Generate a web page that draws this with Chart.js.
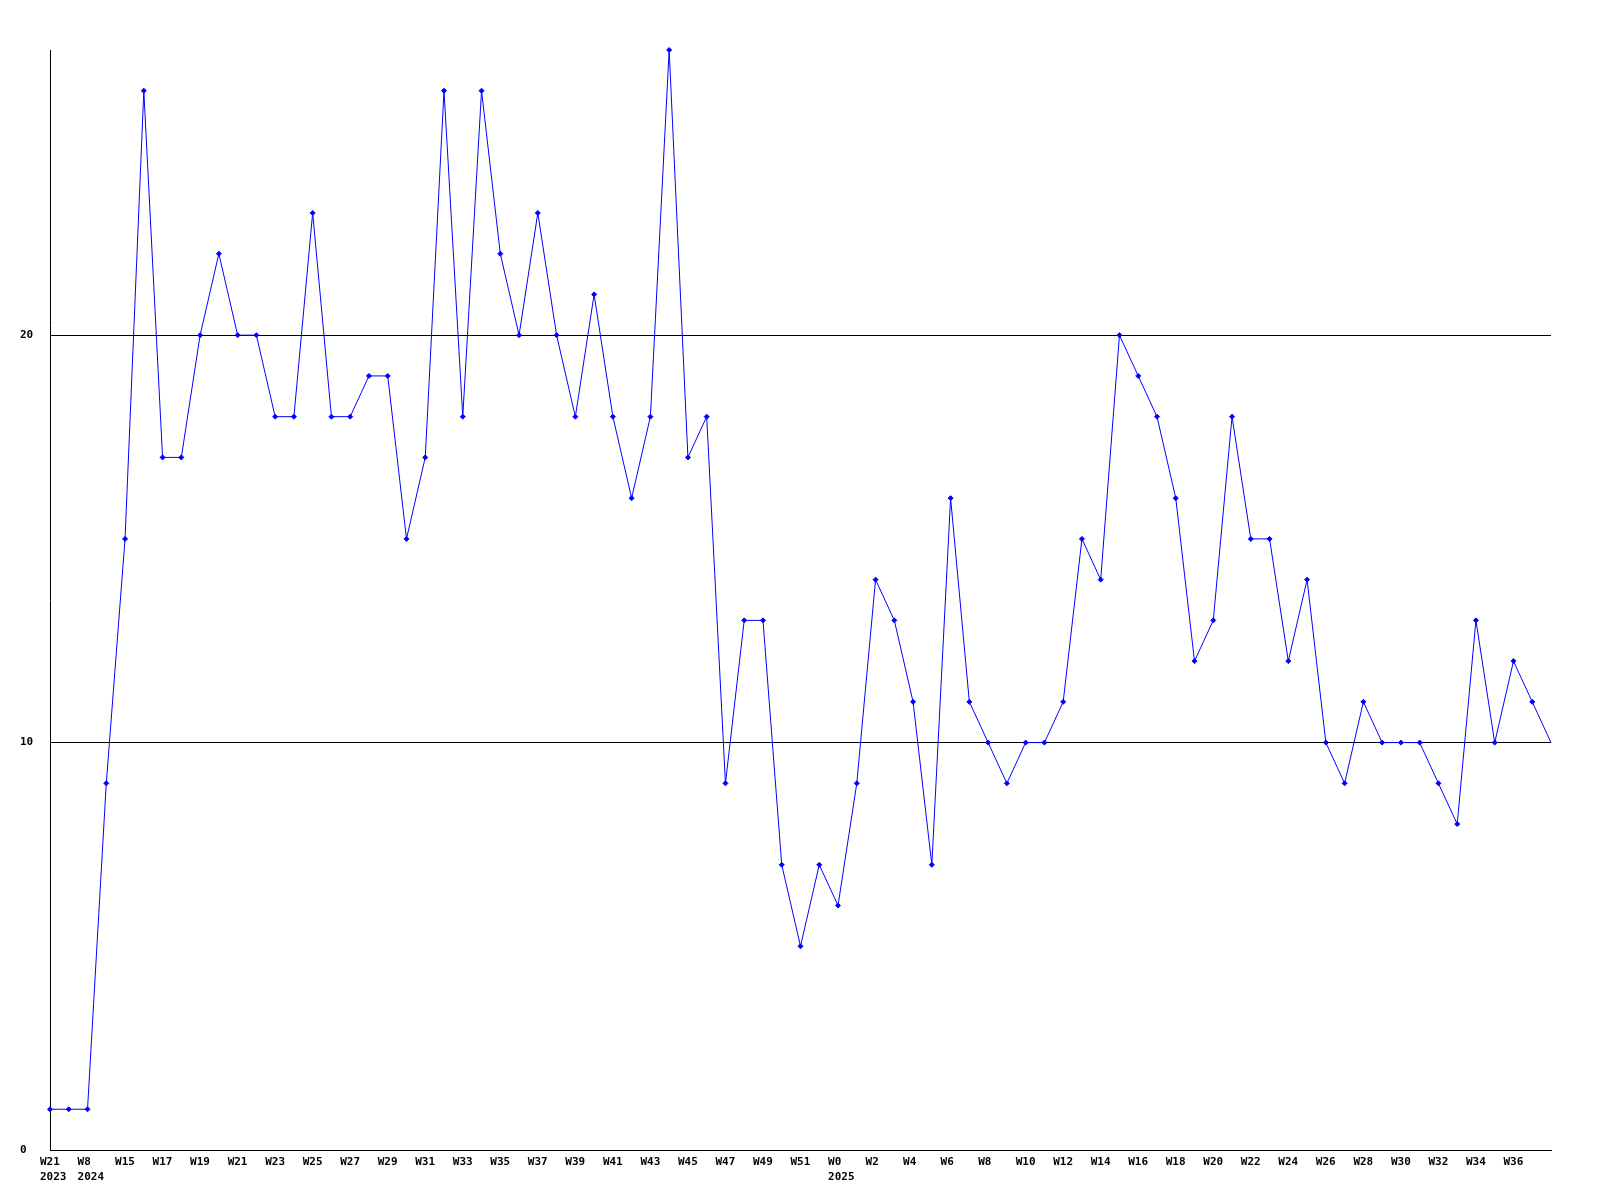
<!DOCTYPE html>
<html>
<head>
<meta charset="utf-8">
<script src="https://cdn.jsdelivr.net/npm/chart.js@4/dist/chart.umd.min.js"></script>
<style>
  html, body { margin: 0; padding: 0; background: #ffffff; }
  #wrap { width: 1600px; height: 1200px; }
</style>
</head>
<body>
<div id="wrap"><canvas id="c" width="1600" height="1200"></canvas></div>
<script>
// Week categories (one per data point)
const weeks = [
  'W21','W22','W8','W14','W15','W16','W17','W18','W19','W20',
  'W21','W22','W23','W24','W25','W26','W27','W28','W29','W30',
  'W31','W32','W33','W34','W35','W36','W37','W38','W39','W40',
  'W41','W42','W43','W44','W45','W46','W47','W48','W49','W50',
  'W51','W52','W0','W1','W2','W3','W4','W5','W6','W7',
  'W8','W9','W10','W11','W12','W13','W14','W15','W16','W17',
  'W18','W19','W20','W21','W22','W23','W24','W25','W26','W27',
  'W28','W29','W30','W31','W32','W33','W34','W35','W36','W37',
  'W38'
];
// Year labels shown under specific week labels
const yearIndex = [0, 2, 42];
const yearText  = ['2023', '2024', '2025'];

// Series values
const values = [
  1, 1, 1, 9, 15, 26, 17, 17, 20, 22,
  20, 20, 18, 18, 23, 18, 18, 19, 19, 15,
  17, 26, 18, 26, 22, 20, 23, 20, 18, 21,
  18, 16, 18, 27, 17, 18, 9, 13, 13, 7,
  5, 7, 6, 9, 14, 13, 11, 7, 16, 11,
  10, 9, 10, 10, 11, 15, 14, 20, 19, 18,
  16, 12, 13, 18, 15, 15, 12, 14, 10, 9,
  11, 10, 10, 10, 9, 8, 13, 10, 12, 11,
  10
];

// Y tick labels
const yTicks = [0, 10, 20];
const yMin = 0, yMax = 27;

const FONT = 'bold 11px "DejaVu Sans Mono", "Liberation Mono", monospace';

const labelPlugin = {
  id: 'labelPlugin',
  afterDraw(chart) {
    const ctx = chart.ctx;
    const xs = chart.scales.x, ys = chart.scales.y;
    const area = chart.chartArea;
    ctx.save();
    ctx.font = FONT;
    ctx.fillStyle = '#000000';
    ctx.textBaseline = 'middle';
    ctx.textAlign = 'left';
    for (let i = 0; i < weeks.length - 1; i += 2) {
      const x = xs.getPixelForValue(i) - 10;
      ctx.fillText(weeks[i], x, area.bottom + 12);
    }
    yearIndex.forEach((idx, k) => {
      const x = xs.getPixelForValue(idx) - 10;
      ctx.fillText(yearText[k], x, area.bottom + 27);
    });
    yTicks.forEach(v => {
      ctx.fillText(String(v), 20, ys.getPixelForValue(v));
    });
    ctx.restore();
  }
};

new Chart(document.getElementById('c'), {
  type: 'line',
  data: {
    labels: weeks,
    datasets: [{
      data: values,
      borderColor: '#0000ff',
      backgroundColor: '#0000ff',
      borderWidth: 1,
      tension: 0,
      fill: false,
      pointStyle: 'rectRot',
      pointRadius: (c) => (c.dataIndex === values.length - 1 ? 0 : 2.5),
      pointBorderWidth: 1,
      pointBorderColor: '#0000ff',
      pointBackgroundColor: '#0000ff',
      clip: false
    }]
  },
  options: {
    responsive: false,
    animation: false,
    devicePixelRatio: 1,
    layout: { padding: { left: 50, right: 49, top: 50, bottom: 50 } },
    plugins: { legend: { display: false }, tooltip: { enabled: false }, title: { display: false } },
    scales: {
      x: {
        type: 'category',
        offset: false,
        grid: { display: false, drawTicks: false },
        border: { display: true, color: '#000000', width: 1 },
        ticks: { display: false }
      },
      y: {
        min: yMin,
        max: yMax,
        grid: { display: true, color: '#000000', lineWidth: 1, drawTicks: false },
        border: { display: true, color: '#000000', width: 1 },
        ticks: { display: false, stepSize: 10, includeBounds: false }
      }
    }
  },
  plugins: [labelPlugin]
});
</script>
</body>
</html>
